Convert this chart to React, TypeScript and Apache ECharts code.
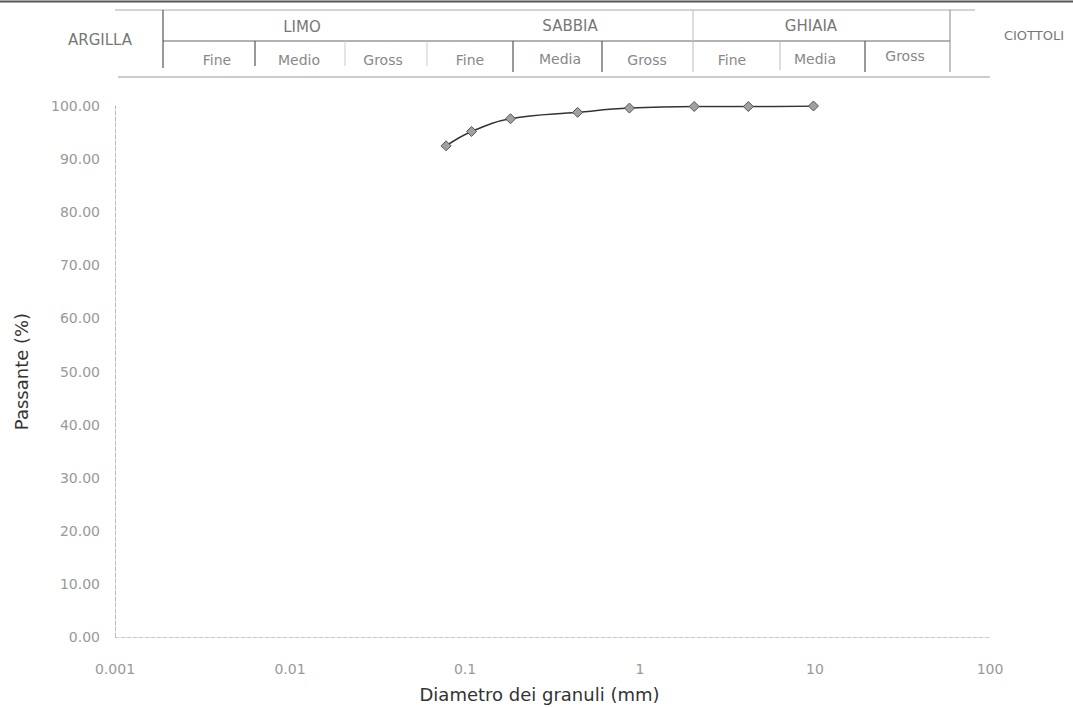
import React, { useEffect, useRef } from "react";
import * as echarts from "echarts";

// Grain size distribution data (diameter in mm, passing %)
const diameters: number[] = [0.078, 0.109, 0.182, 0.44, 0.87, 2.04, 4.16, 9.8];
const passing: number[] = [92.5, 95.2, 97.6, 98.8, 99.6, 99.9, 99.9, 100.0];

const xTickLabels: string[] = ["0.001", "0.01", "0.1", "1", "10", "100"];
const xTitle = "Diametro dei granuli (mm)";
const yTitle = "Passante (%)";

// classification header
const classNames: string[] = ["ARGILLA", "LIMO", "SABBIA", "GHIAIA", "CIOTTOLI"];
const subNames: string[] = ["Fine", "Medio", "Gross", "Fine", "Media", "Gross", "Fine", "Media", "Gross"];

const FONT = "DejaVu Sans, Verdana, sans-serif";

export default function App() {
  const ref = useRef<HTMLDivElement>(null);

  useEffect(() => {
    if (!ref.current) return;
    const chart = echarts.init(ref.current, undefined, { renderer: "svg" });

    const hLine = (x1: number, x2: number, y: number, stroke: string, w = 1) => ({
      type: "line",
      silent: true,
      shape: { x1, y1: y, x2, y2: y },
      style: { stroke, lineWidth: w },
    });
    const vLine = (x: number, y1: number, y2: number, stroke: string, w = 1) => ({
      type: "line",
      silent: true,
      shape: { x1: x, y1, x2: x, y2 },
      style: { stroke, lineWidth: w },
    });
    const txt = (text: string, x: number, y: number, size: number, fill: string) => ({
      type: "text",
      silent: true,
      x,
      y,
      style: {
        text,
        align: "center",
        verticalAlign: "middle",
        fill,
        fontSize: size,
        fontFamily: FONT,
      },
    });

    const classPos: [number, number][] = [
      [100, 40],
      [302, 27],
      [570, 26],
      [811, 26],
      [1034, 35],
    ];
    const classSize: number[] = [15, 15, 15, 15, 13];
    const subPos: [number, number][] = [
      [217, 60],
      [299, 60],
      [383, 60],
      [470, 60],
      [560, 59],
      [647, 60],
      [732, 60],
      [815, 59],
      [905, 56],
    ];

    const graphic: any[] = [
      hLine(0, 1073, 1.5, "#555", 2),
      hLine(115, 975, 10, "#aaa", 1),
      hLine(163, 950, 41, "#666", 1),
      hLine(118, 990, 77, "#999", 1),
      vLine(163, 10, 68, "#555", 1.2),
      vLine(255, 41, 66, "#555", 1.2),
      vLine(345, 41, 66, "#ccc", 1),
      vLine(427, 41, 66, "#ccc", 1),
      vLine(513, 41, 72, "#555", 1.2),
      vLine(602, 41, 72, "#555", 1.2),
      vLine(693, 10, 72, "#bbb", 1),
      vLine(780, 41, 70, "#bbb", 1),
      vLine(865, 41, 72, "#555", 1.2),
      vLine(950, 10, 72, "#888", 1),
    ];
    classNames.forEach((n, i) =>
      graphic.push(txt(n, classPos[i][0], classPos[i][1], classSize[i], "#777"))
    );
    subNames.forEach((n, i) => graphic.push(txt(n, subPos[i][0], subPos[i][1], 14, "#888")));

    chart.setOption({
      animation: false,
      backgroundColor: "#fff",
      grid: { left: 115, right: 83, top: 106, bottom: 71, containLabel: false },
      xAxis: {
        type: "log",
        logBase: 10,
        min: 0.001,
        max: 100,
        name: xTitle,
        nameLocation: "middle",
        nameGap: 48,
        nameTextStyle: {
          color: "#333",
          fontSize: 18,
          fontFamily: FONT,
          padding: [0, 26, 0, 0],
        },
        axisLine: { show: true, lineStyle: { color: "#ccc", width: 1, type: "dashed" } },
        axisTick: { show: false },
        splitLine: { show: false },
        minorTick: { show: false },
        axisLabel: {
          color: "#999",
          fontSize: 14,
          fontFamily: FONT,
          margin: 25,
          formatter: (v: number) => {
            const i = Math.round(Math.log10(v)) + 3;
            return xTickLabels[i] ?? "";
          },
        },
      },
      yAxis: {
        type: "value",
        min: 0,
        max: 100,
        interval: 10,
        name: yTitle,
        nameLocation: "middle",
        nameGap: 85,
        nameTextStyle: { color: "#333", fontSize: 18, fontFamily: FONT },
        axisLine: { show: true, lineStyle: { color: "#bbb", width: 1, type: "dashed" } },
        axisTick: { show: false },
        splitLine: { show: false },
        axisLabel: {
          color: "#999",
          fontSize: 14,
          fontFamily: FONT,
          margin: 15,
          formatter: (v: number) => v.toFixed(2),
        },
      },
      series: [
        {
          type: "line",
          data: diameters.map((d, i) => [d, passing[i]]),
          smooth: 0.4,
          symbol: "diamond",
          symbolSize: 10,
          itemStyle: { color: "#a0a0a0", borderColor: "#555", borderWidth: 1 },
          lineStyle: { color: "#333", width: 1.5 },
        },
      ],
      graphic,
    });

    return () => chart.dispose();
  }, []);

  return (
    <div
      ref={ref}
      style={{ position: "fixed", left: 0, top: 0, width: 1073, height: 708 }}
    />
  );
}
